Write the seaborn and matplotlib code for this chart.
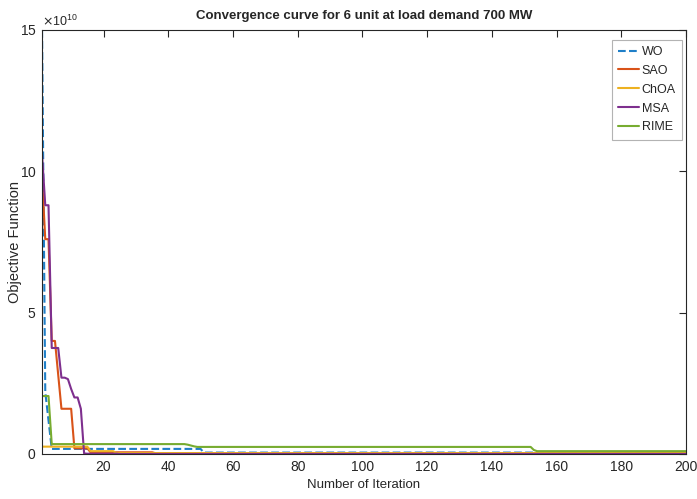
import numpy as np
import pandas as pd
import matplotlib
matplotlib.use('Agg')
import matplotlib.pyplot as plt
import seaborn as sns
from matplotlib.ticker import ScalarFormatter

# Convergence values (x 1e10), iteration 1..200
wo = [15.0, 2.2, 1.2] + [0.18] * 47 + [0.05] * 150
sao = [9.8, 7.6, 7.6, 4.0, 4.0, 2.8, 1.6, 1.6, 1.6, 1.6] + [0.2] * 5 + [0.06] * 20 + [0.03] * 165
choa = [0.26] * 15 + [0.1] * 8 + [0.03] * 177
msa = [10.6, 8.8, 8.8, 3.75, 3.75, 3.75, 2.7, 2.7, 2.65, 2.3, 2.0, 2.0, 1.6, 0.02] + [0.01] * 10 + [0.0] * 176
rime = [2.05, 2.05, 2.05] + [0.35] * 42 + [0.33, 0.3, 0.27] + [0.25] * 104 + [0.14] + [0.1] * 47

names = ['WO', 'SAO', 'ChOA', 'MSA', 'RIME']
series = [wo, sao, choa, msa, rime]
colors = ['#1f7fc8', '#D95319', '#EDB120', '#7E2F8E', '#77AC30']
styles = ['--', '-', '-', '-', '-']

iterations = np.arange(1, 201)

sns.set_style('white')
plt.rcParams['font.family'] = ['Liberation Sans', 'DejaVu Sans']

fig = plt.figure(figsize=(6.97, 4.99), dpi=100)
ax = fig.add_axes([0.0603, 0.0902, 0.9239, 0.8497])

for name, vals, c, ls in zip(names, series, colors, styles):
    sns.lineplot(x=iterations, y=np.array(vals) * 1e10, color=c, linestyle=ls,
                 linewidth=1.5, label=name, ax=ax)

ax.set_xlim(1, 200)
ax.set_ylim(0, 15e10)
ax.set_xticks(np.arange(20, 201, 20))
ax.set_yticks([0, 5e10, 10e10, 15e10])
fmt = ScalarFormatter(useMathText=True)
fmt.set_powerlimits((10, 10))
ax.yaxis.set_major_formatter(fmt)
ax.yaxis.get_offset_text().set_fontsize(9)
ax.yaxis.get_offset_text().set_color('#262626')

ax.tick_params(direction='in', length=5, width=0.8, top=True, right=True,
               labelsize=10, colors='#262626', pad=4)
for s in ax.spines.values():
    s.set_color('#262626')
    s.set_linewidth(0.8)

ax.set_title('Convergence curve for 6 unit at load demand 700 MW',
             fontsize=9.5, fontweight='bold', pad=8)
ax.set_xlabel('Number of Iteration', fontsize=9.5, labelpad=4)
ax.set_ylabel('Objective Function', fontsize=10.5)
ax.yaxis.set_label_coords(-0.031, 0.5)

leg = ax.legend(loc='upper right', bbox_to_anchor=(0.994, 0.977), borderaxespad=0,
                fancybox=False, fontsize=9, handlelength=1.7, handletextpad=0.2,
                labelspacing=0.55, borderpad=0.5)
leg.get_frame().set_edgecolor('#a0a0a0')
leg.get_frame().set_linewidth(0.8)

fig.savefig('out.png', dpi=100)
